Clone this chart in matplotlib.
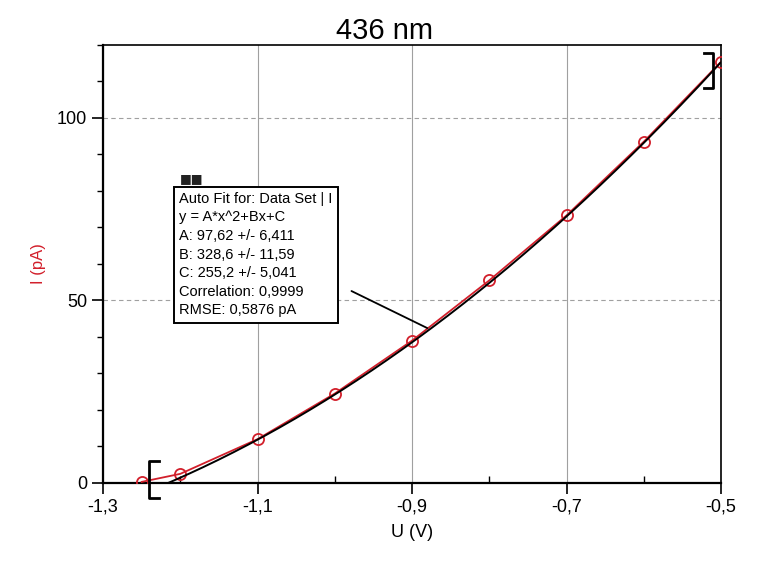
import numpy as np
import matplotlib.pyplot as plt
from matplotlib.ticker import FixedLocator, MultipleLocator, FuncFormatter

plt.rcParams['font.family'] = ['Liberation Sans', 'DejaVu Sans']

# measured data (U in V, I in pA)
u_vals = [-1.25, -1.2, -1.1, -1.0, -0.9, -0.8, -0.7, -0.6, -0.5]
i_vals = [0.3, 2.5, 12.0, 24.5, 39.0, 55.5, 73.3, 93.5, 115.4]

# quadratic auto fit y = A*x^2 + B*x + C
fit_A, fit_B, fit_C = 97.62, 328.6, 255.2
fit_range = (-1.24, -0.5)
fit_text = ("Auto Fit for: Data Set | I\n"
            "y = A*x^2+Bx+C\n"
            "A: 97,62 +/- 6,411\n"
            "B: 328,6 +/- 11,59\n"
            "C: 255,2 +/- 5,041\n"
            "Correlation: 0,9999\n"
            "RMSE: 0,5876 pA")

x_major = [-1.3, -1.1, -0.9, -0.7, -0.5]


def fit(x):
    return fit_A * x**2 + fit_B * x + fit_C


fig = plt.figure(figsize=(7.63, 5.62), dpi=100)
ax = fig.add_axes([0.135, 0.1406, 0.81, 0.7794])

# data line + markers
ax.plot(u_vals, i_vals, color='#d21f2b', lw=1.3, marker='o', ms=8,
        mfc='none', mec='#d21f2b', mew=1.3, zorder=3)

# fit curve
xf = np.linspace(fit_range[0], fit_range[1], 300)
ax.plot(xf, fit(xf), color='black', lw=1.4, zorder=4)

# range brackets
yl0, yl1 = -4, 6
ax.plot([fit_range[0] + 0.012, fit_range[0], fit_range[0], fit_range[0] + 0.012],
        [yl1, yl1, yl0, yl0], color='black', lw=2, clip_on=False, zorder=5)
yr0, yr1 = fit(fit_range[1]) - 7, fit(fit_range[1]) + 2.5
ax.plot([fit_range[1] - 0.022, fit_range[1] - 0.01, fit_range[1] - 0.01, fit_range[1] - 0.022],
        [yr1, yr1, yr0, yr0], color='black', lw=2, clip_on=False, zorder=5)

ax.set_xlim(-1.3, -0.5)
ax.set_ylim(0, 120)

ax.xaxis.set_major_locator(FixedLocator(x_major))
ax.xaxis.set_minor_locator(MultipleLocator(0.1))
ax.yaxis.set_major_locator(MultipleLocator(50))
ax.yaxis.set_minor_locator(MultipleLocator(10))
ax.xaxis.set_major_formatter(FuncFormatter(lambda v, p: f'{v:.1f}'.replace('.', ',')))
ax.yaxis.set_major_formatter(FuncFormatter(lambda v, p: f'{v:.0f}'))

ax.tick_params(axis='both', which='major', direction='out', length=8, width=1.2,
               labelsize=13, colors='black')
ax.tick_params(axis='y', which='minor', direction='out', length=4, width=1)
ax.tick_params(axis='x', which='minor', direction='in', length=5, width=1)

ax.grid(True, which='major', axis='x', color='#a0a0a0', lw=0.8)
ax.grid(True, which='major', axis='y', color='#a0a0a0', lw=0.8, ls=(0, (4, 3)))

for s in ['left', 'bottom']:
    ax.spines[s].set_linewidth(1.6)
for s in ['top', 'right']:
    ax.spines[s].set_linewidth(1.2)

ax.set_title('436 nm', fontsize=21, pad=4, x=0.456)
ax.set_xlabel('U (V)', fontsize=13, labelpad=6)
ax.set_ylabel('I (pA)', fontsize=12, color='#d21f2b', labelpad=8)

# fit info box and connector
ax.annotate('', xy=(-0.877, fit(-0.877)), xytext=(0.398, 0.441),
            textcoords='axes fraction',
            arrowprops=dict(arrowstyle='-', color='black', lw=1.3), zorder=6)
ax.text(0.123, 0.665, fit_text, transform=ax.transAxes, fontsize=10.5,
        va='top', ha='left', linespacing=1.42, zorder=7,
        bbox=dict(boxstyle='square,pad=0.35', fc='white', ec='black', lw=1.4))
ax.text(0.125, 0.68, '\u25a0\u25a0', transform=ax.transAxes, fontsize=9,
        va='bottom', ha='left', color='#222222', family='DejaVu Sans', zorder=8)

fig.savefig('out.png', dpi=100)
